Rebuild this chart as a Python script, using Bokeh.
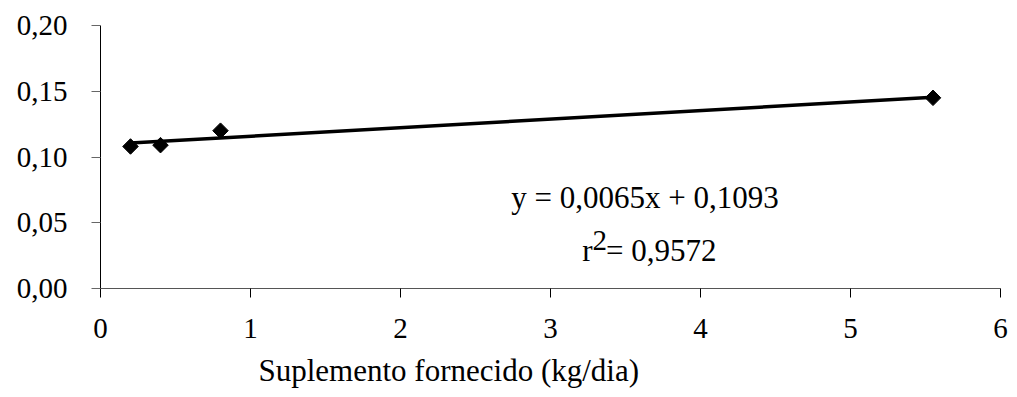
from bokeh.plotting import figure
from bokeh.models import Range1d, FixedTicker, Label, Title
from bokeh.embed import file_html
from bokeh.resources import INLINE

# Supplement offered (kg/day) and measured response
supplement = [0.2, 0.4, 0.8, 5.55]
response = [0.108, 0.109, 0.120, 0.145]

# Fitted linear regression
slope = 0.0065
intercept = 0.1093
r_squared = "0,9572"

x_ticks = [0, 1, 2, 3, 4, 5, 6]
x_tick_labels = ["0", "1", "2", "3", "4", "5", "6"]
y_ticks = [0.0, 0.05, 0.10, 0.15, 0.20]
y_tick_labels = ["0,00", "0,05", "0,10", "0,15", "0,20"]

FONT = "Liberation Serif"
FS = "29px"
EQ_FS = "31px"

p = figure(width=1017, height=397, output_backend="svg", toolbar_location=None,
           x_range=Range1d(0, 6), y_range=Range1d(0, 0.2),
           min_border_left=100, min_border_right=17, min_border_top=25,
           min_border_bottom=109)
p.outline_line_color = None
p.xgrid.visible = False
p.ygrid.visible = False
p.background_fill_color = "white"
p.border_fill_color = "white"

for ax in (p.xaxis, p.yaxis):
    ax.major_label_text_font = FONT
    ax.major_label_text_font_size = FS
    ax.major_label_text_color = "black"
    ax.minor_tick_line_color = None
    ax.major_tick_in = 0
    ax.major_tick_out = 9

p.xaxis.ticker = FixedTicker(ticks=x_ticks)
p.xaxis.major_label_overrides = dict(zip(x_ticks, x_tick_labels))
p.xaxis.axis_line_color = "#555555"
p.xaxis.major_tick_line_color = "black"
p.xaxis.major_label_standoff = 21

p.yaxis.ticker = FixedTicker(ticks=y_ticks)
p.yaxis.major_label_overrides = dict(zip(y_ticks, y_tick_labels))
p.yaxis.axis_line_color = "black"
p.yaxis.major_tick_line_color = "#666666"
p.yaxis.major_label_standoff = 24

# Axis title, placed under the tick labels
p.add_layout(Title(text="Suplemento fornecido (kg/dia)", align="left", offset=158,
                   text_font=FONT, text_font_size="31px", text_font_style="normal",
                   text_color="black", standoff=20), "below")

# Regression line over the observed range
fit_x = [min(supplement), max(supplement)]
fit_y = [intercept + slope * v for v in fit_x]
p.line(fit_x, fit_y, line_color="black", line_width=3.5)

# Observations as diamonds
p.scatter(supplement, response, marker="square", angle=0.785398, size=11,
          fill_color="black", line_color="black")

# Equation and coefficient of determination
p.add_layout(Label(x=3.63, y=0.0692, text=f"y = 0,{str(slope)[2:]}x + 0,{str(intercept)[2:]}",
                   text_font=FONT, text_font_size=EQ_FS, text_align="center",
                   text_baseline="alphabetic", text_color="black"))
p.add_layout(Label(x=3.28, y=0.0289, text="r", text_font=FONT, text_font_size=EQ_FS,
                   text_align="right", text_baseline="alphabetic", text_color="black"))
p.add_layout(Label(x=3.28, y=0.0289, y_offset=10, text="2", text_font=FONT,
                   text_font_size="29px", text_align="left",
                   text_baseline="alphabetic", text_color="black"))
p.add_layout(Label(x=3.37, y=0.0289, text=f"= {r_squared}", text_font=FONT,
                   text_font_size=EQ_FS, text_align="left",
                   text_baseline="alphabetic", text_color="black"))

open("out.html", "w").write(file_html(p, INLINE))
